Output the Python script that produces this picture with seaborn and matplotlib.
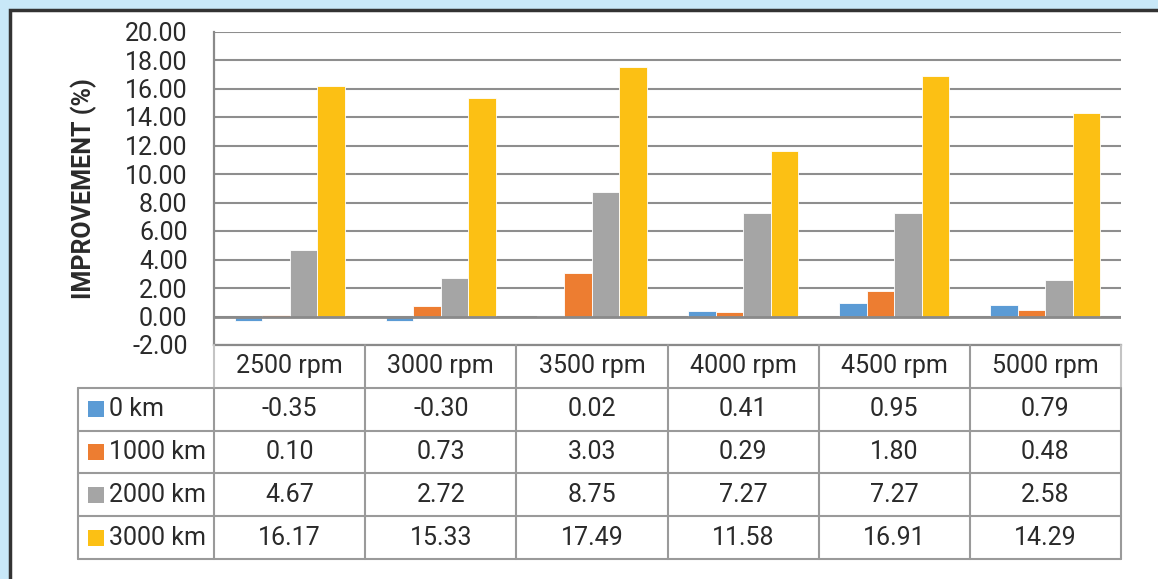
import numpy as np
import pandas as pd
import matplotlib
matplotlib.use("Agg")
import matplotlib.pyplot as plt
from matplotlib.patches import Rectangle
import seaborn as sns

# Engine speeds (categories) and mileage series
speeds = ["2500 rpm", "3000 rpm", "3500 rpm", "4000 rpm", "4500 rpm", "5000 rpm"]
series = ["0 km", "1000 km", "2000 km", "3000 km"]
km0 = [-0.35, -0.30, 0.02, 0.41, 0.95, 0.79]
km1000 = [0.10, 0.73, 3.03, 0.29, 1.80, 0.48]
km2000 = [4.67, 2.72, 8.75, 7.27, 7.27, 2.58]
km3000 = [16.17, 15.33, 17.49, 11.58, 16.91, 14.29]
yticks = [-2, 0, 2, 4, 6, 8, 10, 12, 14, 16, 18, 20]
colors = ["#5B9BD5", "#ED7D31", "#A5A5A5", "#FCC014"]

values = [km0, km1000, km2000, km3000]
df = pd.DataFrame({
    "speed": np.repeat([speeds], len(series), axis=0).ravel(),
    "series": np.repeat(series, len(speeds)),
    "value": np.concatenate(values),
})

sns.set_theme(style="white")
plt.rcParams["font.family"] = ["Roboto", "DejaVu Sans"]
TXT = "#2a2a2a"
FS = 18

W, H = 1158, 579
fig = plt.figure(figsize=(W / 100, H / 100), dpi=100)
fig.patch.set_facecolor("#C8E8F8")

# white panel with dark border on top and left
panel = Rectangle((9.5 / W, -0.05), 1.1, (H - 9.5) / H + 0.05,
                  transform=fig.transFigure, facecolor="white",
                  edgecolor="#333333", linewidth=2.5, zorder=-10)
fig.patches.append(panel)

# plot area geometry (pixels)
x0, x1 = 214, 1121
ytop, ybot = 31.5, 345
ax = fig.add_axes([x0 / W, (H - ybot) / H, (x1 - x0) / W, (ybot - ytop) / H])
ax.set_facecolor("none")

sns.barplot(data=df, x="speed", y="value", hue="series", order=speeds,
            hue_order=series, palette=colors, width=0.727, gap=0,
            saturation=1, edgecolor="white", linewidth=0.6,
            legend=False, ax=ax, zorder=3)

ax.set_xlim(-0.5, len(speeds) - 0.5)
ax.set_ylim(-2, 20)
ax.set_yticks(yticks)
ax.set_yticklabels([f"{v:.2f}" for v in yticks], fontsize=FS, color=TXT)
ax.tick_params(axis="y", length=0, pad=19)
ax.set_xticks([])
ax.set_xlabel("")
ax.set_ylabel("IMPROVEMENT (%)", fontsize=FS, fontweight="bold",
              color=TXT, labelpad=20)
ax.yaxis.grid(True, color="#8E8E8E", linewidth=1.5)
ax.set_axisbelow(True)
ax.axhline(0, color="#8A8A8A", linewidth=2, zorder=4)
for side in ["top", "right"]:
    ax.spines[side].set_visible(False)
for side in ["left", "bottom"]:
    ax.spines[side].set_color("#8A8A8A")
    ax.spines[side].set_linewidth(1.6)

# data table below the plot, aligned with the category positions
tx0, tbot = 78, 559
col_px = (x1 - x0) / len(speeds)
row_px = (tbot - ybot) / 5
left_data = -0.5 - (x0 - tx0) / col_px
tax = fig.add_axes([tx0 / W, (H - tbot) / H, (x1 - tx0) / W, (tbot - ybot) / H])
tax.set_xlim(left_data, len(speeds) - 0.5)
tax.set_ylim(5, 0)
tax.axis("off")

LC = "#9A9A9A"
lw = 1.5
for r in range(1, 6):
    tax.plot([left_data, len(speeds) - 0.5], [r, r], color=LC, lw=lw, clip_on=False)
tax.plot([left_data, left_data], [1, 5], color=LC, lw=lw, clip_on=False)
for k in range(len(speeds) + 1):
    c = "#C4C4C4" if k in (0, len(speeds)) else LC
    tax.plot([-0.5 + k, -0.5 + k], [0, 1], color=c, lw=lw, clip_on=False)
    tax.plot([-0.5 + k, -0.5 + k], [1, 5], color=LC, lw=lw, clip_on=False)

for i, sp in enumerate(speeds):
    tax.text(i, 0.5, sp, ha="center", va="center", fontsize=FS, color=TXT)

sq_w = 16 / col_px
sq_h = 16 / row_px
for r, (name, vals, col) in enumerate(zip(series, values, colors), start=1):
    tax.add_patch(Rectangle((left_data + 10 / col_px, r + 0.5 - sq_h / 2),
                            sq_w, sq_h, facecolor=col, edgecolor="none",
                            clip_on=False))
    tax.text(left_data + 31 / col_px, r + 0.5, name, ha="left", va="center",
             fontsize=FS, color=TXT)
    for i, v in enumerate(vals):
        tax.text(i, r + 0.5, f"{v:.2f}", ha="center", va="center",
                 fontsize=FS, color=TXT)

fig.savefig("out.png", dpi=100, facecolor=fig.get_facecolor())
